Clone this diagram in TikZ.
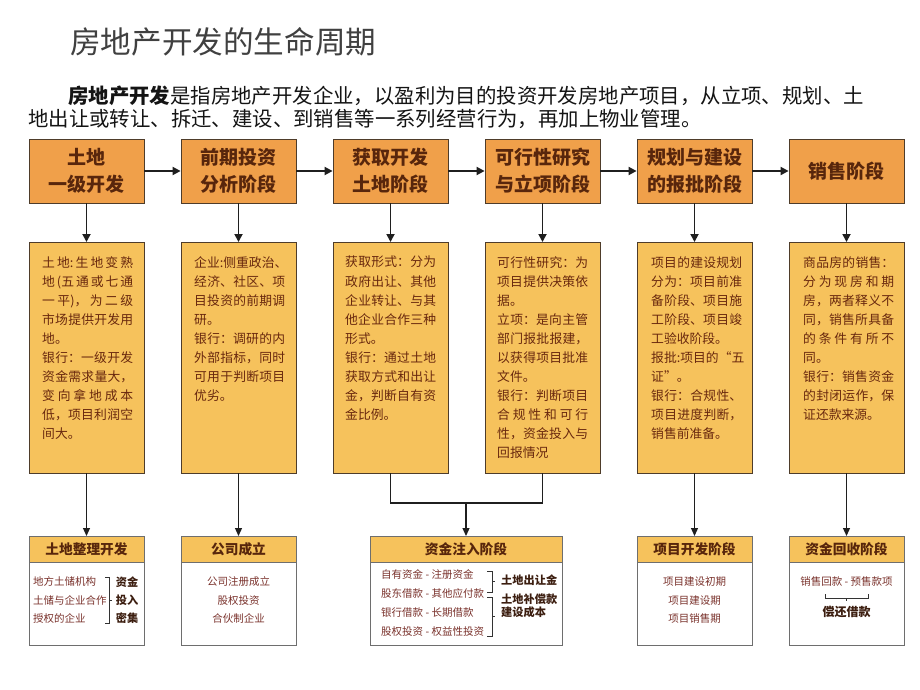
\documentclass[tikz,border=0pt]{standalone}
\usepackage{fontspec}
\setmainfont{Noto Sans CJK SC}
\usetikzlibrary{arrows.meta}
\definecolor{topfill}{RGB}{240,160,74}
\definecolor{midfill}{RGB}{246,194,92}
\definecolor{lineclr}{RGB}{78,60,42}
\definecolor{botline}{RGB}{110,110,110}
\definecolor{toptext}{RGB}{88,38,12}
\definecolor{midtxt}{RGB}{105,40,14}
\definecolor{cbot}{RGB}{122,50,44}
\definecolor{cbold}{RGB}{60,30,16}
\definecolor{titlegray}{RGB}{64,64,64}
\newcommand\zhjust{\XeTeXlinebreaklocale "zh"\XeTeXlinebreakskip=0pt plus 4pt\relax}
\newcommand\topfont{\bfseries\fontsize{19pt}{27pt}\selectfont}
\newcommand\midfont{\fontsize{12.8pt}{19.07pt}\selectfont\zhjust}
\newcommand\headfont{\bfseries\fontsize{13.7pt}{16pt}\selectfont}
\newcommand\botfont{\fontsize{10.5pt}{18.2pt}\selectfont}
\newcommand\botbfont{\bfseries\fontsize{11.2pt}{18pt}\selectfont}
\tikzset{
 topbox/.style={draw=lineclr, line width=0.8pt, fill=topfill, minimum width=115pt, minimum height=64pt, inner sep=0pt, align=center, text=toptext, font=\topfont},
 midbox/.style={draw=lineclr, line width=0.8pt, fill=midfill, minimum width=115pt, minimum height=230.5pt, inner sep=0pt, anchor=north},
 midtext/.style={text width=91pt, align=justify, inner sep=0pt, text=midtxt, font=\midfont, anchor=north west},
 botbox/.style={draw=botline, line width=0.8pt, fill=white, minimum height=109pt, inner sep=0pt, anchor=north},
 bothead/.style={draw=botline, line width=0.8pt, fill=midfill, minimum height=26pt, inner sep=0pt, anchor=north, text=toptext, font=\headfont},
 bottxt/.style={inner sep=0pt, text=cbot, font=\botfont},
 botbold/.style={inner sep=0pt, text=cbold, font=\botbfont},
 arr/.style={-{Triangle[length=8pt,width=8pt]}, line width=1.8pt, draw=black!88},
 arrthin/.style={-{Triangle[length=8pt,width=7pt]}, line width=1.2pt, draw=black!88},
 brk/.style={line width=0.7pt, draw=black!80},
}
\begin{document}
\begin{tikzpicture}[x=1pt,y=-1pt]
\useasboundingbox (0,0) rectangle (920,690);
\fill[white] (0,0) rectangle (920,690);

% title and paragraph
\node[anchor=west, inner sep=0pt, text=titlegray, font=\fontsize{30.6pt}{34pt}\selectfont] (title) at (70,42) {房地产开发的生命周期};
\node[anchor=north west, inner sep=0pt, align=left, font=\fontsize{20.4pt}{23pt}\selectfont, text=black!92] (para) at (28,86)
 {\hspace*{40pt}{\bfseries 房地产开发}是指房地产开发企业，以盈利为目的投资开发房地产项目，从立项、规划、土\\地出让或转让、拆迁、建设、到销售等一系列经营行为，再加上物业管理。};

% top row
\node[topbox] (t1) at (86.5,171) {土地\\一级开发};
\node[topbox] (t2) at (238.5,171) {前期投资\\分析阶段};
\node[topbox] (t3) at (390.5,171) {获取开发\\土地阶段};
\node[topbox] (t4) at (542.5,171) {可行性研究\\与立项阶段};
\node[topbox] (t5) at (694.5,171) {规划与建设\\的报批阶段};
\node[topbox] (t6) at (846.5,171) {销售阶段};
\foreach \a/\b in {t1/t2,t2/t3,t3/t4,t4/t5,t5/t6} \draw[arr] (\a.east) -- (\b.west);

% middle boxes
\node[midbox] (m1) at (86.5,242) {};
\node[midbox] (m2) at (238.5,242) {};
\node[midbox] (m3) at (390.5,242) {};
\node[midbox] (m4) at (542.5,242) {};
\node[midbox] (m5) at (694.5,242) {};
\node[midbox] (m6) at (846.5,242) {};
\foreach \i in {1,...,6} \draw[arr] (t\i.south) -- (m\i.north);

\node[midtext] (m1t) at (42,256) {土地:生地变熟\linebreak
地(五通或七通\linebreak
一平)，为二级\linebreak
市场提供开发用\linebreak
地。\par
银行：一级开发\linebreak
资金需求量大，\linebreak
变向拿地成本\linebreak
低，项目利润空\linebreak
间大。};
\node[midtext] (m2t) at (194,256) {\mbox{企业:侧重政治、}\linebreak
经济、社区、项\linebreak
目投资的前期调\linebreak
研。\par
银行：调研的内\linebreak
外部指标，同时\linebreak
可用于判断项目\linebreak
优劣。};
\node[midtext] (m3t) at (345,256) {获取形式：分为\linebreak
政府出让、其他\linebreak
企业转让、与其\linebreak
他企业合作三种\linebreak
形式。\par
银行：通过土地\linebreak
获取方式和出让\linebreak
金，判断自有资\linebreak
金比例。};
\node[midtext] (m4t) at (497,256) {可行性研究：为\linebreak
项目提供决策依\linebreak
据。\par
立项：是向主管\linebreak
部门报批报建，\linebreak
以获得项目批准\linebreak
文件。\par
银行：判断项目\linebreak
合规性和可行\linebreak
性，资金投入与\linebreak
回报情况};
\node[midtext] (m5t) at (651,256) {项目的建设规划\linebreak
分为：项目前准\linebreak
备阶段、项目施\linebreak
工阶段、项目竣\linebreak
工验收阶段。\par
\mbox{报批:项目的“五}\linebreak
证”。\par
银行：合规性、\linebreak
项目进度判断，\linebreak
销售前准备。};
\node[midtext] (m6t) at (803,256) {商品房的销售：\linebreak
分为现房和期\linebreak
房，两者释义不\linebreak
同，销售所具备\linebreak
的条件有所不\linebreak
同。\par
银行：销售资金\linebreak
的封闭运作，保\linebreak
证还款来源。};

% bottom boxes
\node[botbox, minimum width=115pt] (b1) at (86.5,536) {};
\node[bothead, minimum width=115pt] (b1h) at (b1.north) {土地整理开发};
\node[botbox, minimum width=115pt] (b2) at (238.5,536) {};
\node[bothead, minimum width=115pt] (b2h) at (b2.north) {公司成立};
\node[botbox, minimum width=192pt] (b3) at (466,536) {};
\node[bothead, minimum width=192pt] (b3h) at (b3.north) {资金注入阶段};
\node[botbox, minimum width=115pt] (b4) at (694.5,536) {};
\node[bothead, minimum width=115pt] (b4h) at (b4.north) {项目开发阶段};
\node[botbox, minimum width=115pt] (b5) at (846.5,536) {};
\node[bothead, minimum width=115pt] (b5h) at (b5.north) {资金回收阶段};

% connectors middle -> bottom
\draw[arrthin] (m1.south) -- (b1h.north);
\draw[arrthin] (m2.south) -- (b2h.north);
\coordinate (j) at (466,503);
\draw[line width=1.2pt, draw=black!88] (m3.south) -- (m3.south |- j) -- (m4.south |- j) -- (m4.south);
\draw[arrthin] (j) -- (j |- b3h.north);
\draw[arrthin] (m5.south) -- (b4h.north);
\draw[arrthin] (m6.south) -- (b5h.north);

% box 1 body
\node[bottxt, anchor=west, align=left] (b1t) at (33,600) {地方土储机构\\土储与企业合作\\授权的企业};
\draw[brk] (105,577) -- (109,577) -- (109,623) -- (105,623);
\draw[brk] (109,600) -- (112,600);
\node[botbold, align=center] (b1b) at (127,600) {资金\\投入\\密集};

% box 2 body
\node[bottxt, align=center] (b2t) at (238.5,600) {公司注册成立\\股权投资\\合伙制企业};

% box 3 body
\node[bottxt, anchor=west, align=left, font=\fontsize{10.5pt}{18.7pt}\selectfont] (b3t) at (381,603) {自有资金 - 注册资金\\股东借款 - 其他应付款\\银行借款 - 长期借款\\股权投资 - 权益性投资};
\draw[brk] (487,571) -- (492,571) -- (492,592) -- (487,592);
\draw[brk] (492,581.5) -- (495,581.5);
\draw[brk] (487,597) -- (492,597) -- (492,636) -- (487,636);
\draw[brk] (492,616.5) -- (495,616.5);
\node[botbold, anchor=west] (b3b1) at (501,580) {土地出让金};
\node[botbold, anchor=west] (b3b2) at (501,599) {土地补偿款};
\node[botbold, anchor=west] (b3b3) at (501,612.5) {建设成本};

% box 4 body
\node[bottxt, align=center, font=\fontsize{10.5pt}{18.5pt}\selectfont] (b4t) at (694.5,600.5) {项目建设初期\\项目建设期\\项目销售期};

% box 5 body
\node[bottxt] (b5t) at (846.5,582) {销售回款 - 预售款项};
\draw[brk] (825,594) -- (825,598) -- (868,598) -- (868,594);
\draw[brk] (846.5,598) -- (846.5,601);
\node[botbold, font=\bfseries\fontsize{12pt}{14pt}\selectfont] (b5b) at (846.5,611.5) {偿还借款};
\end{tikzpicture}
\end{document}
